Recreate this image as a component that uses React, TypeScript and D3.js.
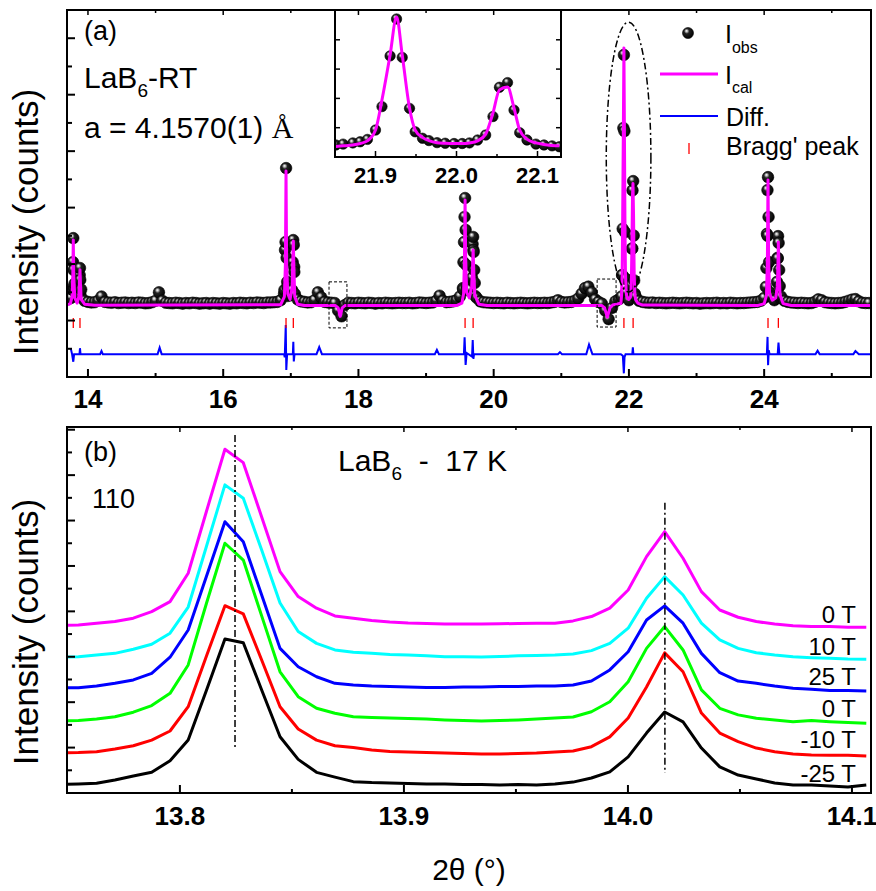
import React, { useEffect, useRef } from "react";
import * as d3 from "d3";

const W = 876,
  H = 891;
const FONT = "Liberation Sans, Arial, sans-serif";

// ---------- panel (a): LaB6 room temperature refinement ----------
// observed background, sampled every 0.05 deg starting at 13.70
const obsStart = 13.7;
const obsStep = 0.05;
const obsBackground = [
  2.75, 2.8, 3.3, 2.85, 3.1, 2.7, 2.66, 2.64, 2.65, 2.7, 2.85, 2.66, 2.64, 2.63, 2.65, 2.62, 2.63, 2.64, 2.62, 2.63,
  2.62, 2.64, 2.63, 2.61, 2.62, 2.65, 2.7, 3.0, 2.7, 2.63, 2.62, 2.61, 2.63, 2.62, 2.6, 2.62, 2.61, 2.63, 2.62, 2.6,
  2.61, 2.62, 2.6, 2.62, 2.61, 2.6, 2.62, 2.61, 2.6, 2.62, 2.61, 2.63, 2.62, 2.61, 2.63, 2.62, 2.64, 2.63, 2.62, 2.64,
  2.64, 2.65, 2.66, 2.72, 2.95, 3.2, 2.9, 3.9, 2.75, 2.68, 2.66, 2.64, 2.65, 2.72, 3.0, 2.82, 2.66, 2.64, 2.63, 2.62,
  2.35, 2.15, 2.55, 2.63, 2.62, 2.61, 2.63, 2.62, 2.61, 2.63, 2.62, 2.6, 2.62, 2.61, 2.63, 2.62, 2.61, 2.62, 2.63, 2.62,
  2.62, 2.63, 2.61, 2.62, 2.64, 2.63, 2.62, 2.63, 2.64, 2.7, 2.88, 2.7, 2.65, 2.66, 2.68, 2.72, 2.85, 3.1, 3.2, 3.1,
  4.5, 2.8, 2.68, 2.65, 2.64, 2.63, 2.62, 2.63, 2.62, 2.61, 2.63, 2.62, 2.61, 2.62, 2.63, 2.62, 2.61, 2.62, 2.63, 2.62,
  2.62, 2.63, 2.62, 2.64, 2.66, 2.72, 2.66, 2.64, 2.65, 2.66, 2.7, 2.78, 2.95, 3.15, 3.2, 3.0, 2.75, 2.66, 2.6, 2.35,
  2.05, 2.45, 2.68, 2.75, 3.61, 3.48, 2.72, 4.55, 2.85, 2.7, 2.66, 2.64, 2.63, 2.64, 2.62, 2.63, 2.62, 2.61, 2.62, 2.63,
  2.62, 2.61, 2.62, 2.63, 2.62, 2.61, 2.62, 2.6, 2.61, 2.62, 2.61, 2.62, 2.63, 2.61, 2.62, 2.61, 2.63, 2.62, 2.61, 2.62,
  2.62, 2.63, 2.64, 2.65, 2.66, 2.7, 2.8, 5.0, 2.85, 2.72, 4.2, 2.85, 2.7, 2.66, 2.64, 2.63, 2.62, 2.63, 2.62, 2.61,
  2.62, 2.66, 2.75, 2.72, 2.65, 2.63, 2.62, 2.61, 2.62, 2.63, 2.66, 2.7, 2.74, 2.76, 2.68, 2.63, 2.62, 2.62,
];

// observed points on the Bragg reflections
const peakTheta = [
  13.775, 13.779, 13.783, 13.787, 13.791, 13.874, 13.878, 13.882, 13.886, 13.89,
  16.905, 16.914, 16.922, 16.93, 16.938, 16.946, 16.955, 17.02, 17.028, 17.036, 17.044, 17.052, 17.06,
  19.545, 19.553, 19.561, 19.569, 19.577, 19.585, 19.593, 19.601, 19.68, 19.688, 19.696, 19.704, 19.712, 19.72, 19.728,
  21.89, 21.9, 21.908, 21.918, 21.926, 21.933, 21.942, 21.949, 21.958, 22.036, 22.045, 22.053, 22.063, 22.071, 22.078, 22.087,
  24.025, 24.033, 24.041, 24.049, 24.057, 24.065, 24.073, 24.081, 24.19, 24.198, 24.206, 24.214, 24.222, 24.23, 24.238,
];
const peakObs = [
  3.08, 4.07, 4.92, 3.79, 3.19, 3.01, 3.61, 3.86, 3.44, 2.9,
  3.08, 4.5, 4.78, 7.4, 4.22, 3.37, 2.87, 3.08, 4.07, 4.85, 4.68, 3.72, 2.94,
  3.15, 4.07, 4.78, 5.67, 6.34, 5.21, 3.97, 3.08, 3.51, 4.71, 4.96, 4.43, 3.79, 3.33, 2.87,
  2.85, 3.61, 5.25, 8.82, 11.41, 8.71, 5.13, 3.48, 3.0, 3.26, 4.55, 6.61, 6.94, 5.01, 3.42, 2.95,
  3.19, 3.86, 5.07, 6.62, 7.08, 5.67, 4.07, 3.01, 3.37, 4.22, 4.99, 4.75, 3.79, 3.22, 2.8,
];

// calculated profile
const calcTheta = [
  13.69, 13.74, 13.765, 13.776, 13.783, 13.79, 13.805, 13.84, 13.865, 13.875, 13.882, 13.889, 13.9, 13.95, 14.1,
  16.85, 16.905, 16.92, 16.929, 16.938, 16.955, 16.99, 17.02, 17.03, 17.037, 17.044, 17.058, 17.1, 17.2,
  17.66, 17.7, 17.73, 17.76, 17.8,
  19.45, 19.53, 19.555, 19.568, 19.577, 19.586, 19.6, 19.64, 19.675, 19.688, 19.696, 19.705, 19.72, 19.78, 19.9,
  21.6, 21.64, 21.68, 21.72, 21.76, 21.85,
  21.881, 21.89, 21.9, 21.908, 21.918, 21.926, 21.933, 21.942, 21.949, 21.958, 21.966, 21.976, 21.997, 22.016, 22.026,
  22.036, 22.045, 22.053, 22.06, 22.068, 22.078, 22.087, 22.098, 22.13, 22.2,
  23.9, 24.0, 24.035, 24.048, 24.057, 24.066, 24.08, 24.12, 24.17, 24.195, 24.204, 24.21, 24.218, 24.235, 24.28, 24.4,
  25.58,
];
const calcVal = [
  2.56, 2.6, 2.85, 3.6, 4.85, 3.6, 2.8, 2.62, 2.85, 3.4, 3.8, 3.3, 2.75, 2.58, 2.54,
  2.56, 2.85, 4.0, 7.3, 4.0, 2.95, 2.75, 3.2, 4.2, 4.82, 4.0, 2.85, 2.58, 2.53,
  2.53, 2.45, 2.15, 2.45, 2.53,
  2.53, 2.62, 2.95, 4.2, 6.27, 4.2, 3.0, 2.8, 3.2, 3.9, 4.5, 3.8, 2.9, 2.58, 2.53,
  2.53, 2.45, 2.12, 2.45, 2.55, 2.6,
  2.6, 2.85, 3.61, 5.73, 8.88, 11.65, 8.88, 5.15, 3.61, 3.09, 2.87, 2.8, 2.75, 2.8, 2.85,
  3.32, 4.8, 6.43, 6.85, 5.8, 3.61, 2.97, 2.75, 2.62, 2.55,
  2.53, 2.6, 2.9, 4.2, 6.98, 4.2, 2.95, 2.72, 2.8, 3.2, 4.0, 4.78, 3.9, 2.9, 2.6, 2.53,
  2.53,
];

// difference curve
const diffTheta = [
  13.745, 13.765, 13.783, 13.795, 13.875, 13.882, 13.89, 14.18, 14.2, 14.22, 15.03, 15.06, 15.09,
  16.9, 16.91, 16.925, 16.933, 16.945, 17.03, 17.037, 17.044, 17.055, 17.38, 17.42, 17.46,
  19.13, 19.16, 19.19, 19.56, 19.57, 19.585, 19.6, 19.68, 19.69, 19.7, 19.71,
  20.95, 20.98, 21.01, 21.37, 21.41, 21.46, 21.88, 21.91, 21.925, 21.935, 21.95, 22.05, 22.058, 22.066,
  24.04, 24.05, 24.058, 24.068, 24.08, 24.2, 24.212, 24.225, 24.76, 24.79, 24.82, 25.32, 25.35, 25.4, 25.58,
];
const diffVal = [
  1.02, 0.81, 0.54, 0.81, 0.81, 1.02, 0.81, 0.81, 0.92, 0.81, 0.81, 1.04, 0.81,
  0.81, 0.7, 1.84, 0.25, 0.81, 0.81, 1.25, 0.55, 0.81, 0.81, 1.06, 0.81,
  0.81, 0.96, 0.81, 0.81, 1.41, 0.43, 0.85, 0.72, 1.31, 0.64, 0.81,
  0.81, 0.88, 0.81, 0.81, 1.15, 0.81, 0.81, 0.75, 0.13, 0.7, 0.81, 0.81, 1.05, 0.81,
  0.81, 1.42, 0.42, 0.95, 0.81, 0.81, 1.22, 0.81, 0.81, 0.93, 0.81, 0.81, 0.92, 0.81, 0.81,
];

const braggPeaks = [13.783, 13.882, 16.929, 17.037, 19.577, 19.696, 21.926, 22.062, 24.057, 24.21];
const braggLow = 1.74,
  braggHigh = 2.09;

// inset: the 21.9 / 22.06 doublet
const insetTheta = [
  21.851, 21.86, 21.872, 21.881, 21.89, 21.9, 21.908, 21.918, 21.926, 21.933, 21.942, 21.949, 21.958, 21.966,
  21.976, 21.986, 21.997, 22.007, 22.016, 22.026, 22.036, 22.045, 22.053, 22.063, 22.071, 22.078, 22.087,
  22.098, 22.108, 22.118, 22.127,
];
const insetObs = [
  0.41, 0.44, 0.48, 0.52, 0.6, 0.92, 1.72, 3.45, 4.71, 3.4, 1.66, 0.86, 0.64, 0.56,
  0.49, 0.47, 0.46, 0.46, 0.48, 0.58, 0.75, 1.38, 2.38, 2.54, 1.6, 0.83, 0.58,
  0.44, 0.41, 0.38, 0.35,
];
const insetCalc = [
  0.36, 0.38, 0.41, 0.46, 0.55, 0.92, 1.95, 3.48, 4.78, 3.48, 1.67, 0.92, 0.67, 0.56,
  0.49, 0.47, 0.46, 0.46, 0.48, 0.55, 0.78, 1.5, 2.29, 2.39, 1.67, 0.92, 0.61,
  0.48, 0.43, 0.39, 0.38,
];

// ---------- panel (b): 110 doublet at 17 K in field ----------
const scanTheta = [
  13.7465, 13.7547, 13.7628, 13.771, 13.7792, 13.7874, 13.7956, 13.8037, 13.8119, 13.8201, 13.8283, 13.8365,
  13.8447, 13.8528, 13.861, 13.8692, 13.8774, 13.8856, 13.8937, 13.9019, 13.9101, 13.9183, 13.9265, 13.9346,
  13.9428, 13.951, 13.9592, 13.9674, 13.9755, 13.9837, 13.9919, 14.0001, 14.0083, 14.0164, 14.0246, 14.0328,
  14.041, 14.0492, 14.0573, 14.0655, 14.0737, 14.0819, 14.0901, 14.0982, 14.1064,
];
const scanM25 = [
  0.37, 0.4, 0.43, 0.57, 0.75, 0.91, 1.42, 2.33, 4.54, 6.78, 6.62, 4.54,
  2.48, 1.48, 0.91, 0.7, 0.5, 0.46, 0.44, 0.42, 0.4, 0.4, 0.37, 0.37,
  0.35, 0.37, 0.35, 0.4, 0.48, 0.66, 0.93, 1.59, 2.64, 3.57, 3.13, 1.98,
  1.15, 0.79, 0.62, 0.44, 0.35, 0.35, 0.31, 0.26, 0.35,
];
const scanM10 = [
  1.76, 1.78, 1.82, 1.94, 2.08, 2.33, 2.73, 3.8, 6.04, 8.25, 7.89, 5.86,
  3.8, 2.82, 2.33, 2.08, 2.0, 1.89, 1.83, 1.81, 1.78, 1.76, 1.74, 1.72,
  1.72, 1.74, 1.76, 1.81, 1.85, 2.04, 2.47, 3.3, 4.67, 6.17, 5.34, 3.52,
  2.64, 2.26, 1.98, 1.82, 1.72, 1.67, 1.66, 1.66, 1.63,
];
const scan0Tb = [
  3.17, 3.19, 3.26, 3.36, 3.56, 3.85, 4.39, 5.64, 8.37, 11.0, 10.26, 7.8,
  5.34, 4.24, 3.73, 3.51, 3.36, 3.33, 3.3, 3.28, 3.26, 3.22, 3.19, 3.17,
  3.19, 3.22, 3.26, 3.3, 3.35, 3.58, 4.02, 4.9, 6.37, 7.33, 6.3, 4.54,
  3.73, 3.44, 3.29, 3.22, 3.14, 3.19, 3.14, 3.1, 3.07,
];
const scan25 = [
  4.63, 4.64, 4.71, 4.83, 4.98, 5.27, 5.98, 7.18, 9.56, 11.95, 11.07, 8.72,
  6.37, 5.56, 5.12, 4.83, 4.76, 4.71, 4.69, 4.67, 4.65, 4.65, 4.67, 4.67,
  4.69, 4.69, 4.71, 4.71, 4.76, 4.93, 5.42, 6.22, 7.62, 8.24, 7.48, 6.15,
  5.3, 4.93, 4.83, 4.71, 4.61, 4.57, 4.51, 4.51, 4.49,
];
const scan10 = [
  5.99, 6.0, 6.08, 6.15, 6.33, 6.55, 7.04, 8.19, 10.88, 13.57, 12.98, 10.7,
  8.37, 7.11, 6.59, 6.3, 6.2, 6.15, 6.1, 6.08, 6.04, 6.0, 6.0, 5.99,
  6.01, 6.04, 6.06, 6.08, 6.12, 6.27, 6.59, 7.26, 8.58, 9.53, 8.72, 7.48,
  6.74, 6.37, 6.18, 6.08, 6.0, 5.96, 5.93, 5.9, 5.89,
];
const scan0Ta = [
  7.38, 7.4, 7.48, 7.55, 7.7, 7.99, 8.43, 9.68, 12.42, 15.14, 14.55, 12.16,
  9.75, 8.65, 8.14, 7.8, 7.7, 7.6, 7.53, 7.49, 7.47, 7.44, 7.44, 7.44,
  7.45, 7.47, 7.48, 7.48, 7.58, 7.77, 8.14, 8.94, 10.41, 11.51, 10.34, 8.87,
  8.06, 7.74, 7.55, 7.44, 7.37, 7.33, 7.33, 7.3, 7.3,
];
const scanSeries = [scanM25, scanM10, scan0Tb, scan25, scan10, scan0Ta];
const fieldLabels = ["-25 T", "-10 T", "0 T", "25 T", "10 T", "0 T"];
const fieldColors = ["#000000", "#ff0000", "#00ff00", "#0000ff", "#00ffff", "#ff00ff"];
const peakMarks = [13.8246, 14.0165];

export default function App() {
  const svgRef = useRef<SVGSVGElement>(null);

  useEffect(() => {
    const svg = d3.select(svgRef.current);
    svg.selectAll("*").remove();
    svg.append("rect").attr("width", W).attr("height", H).attr("fill", "#fff");

    const defs = svg.append("defs");
    const grad = defs
      .append("radialGradient")
      .attr("id", "ball")
      .attr("cx", "0.42")
      .attr("cy", "0.4")
      .attr("r", "0.62")
      .attr("fx", "0.36")
      .attr("fy", "0.3");
    [
      [0, "#ffffff"],
      [0.14, "#c0c0c0"],
      [0.38, "#222222"],
      [1, "#000000"],
    ].forEach(([o, c]) => grad.append("stop").attr("offset", o as number).attr("stop-color", c as string));

    // scales
    const xA = d3.scaleLinear().domain([13.69, 25.58]).range([67, 871]);
    const yA = d3.scaleLinear().domain([0, 13]).range([377, 10]);
    const xI = d3.scaleLinear().domain([21.85, 22.129]).range([335, 561]);
    const yI = d3.scaleLinear().domain([0, 5.017]).range([157, 10]);
    const xB = d3.scaleLinear().domain([13.7496, 14.1085]).range([67, 871]);
    const yB = d3.scaleLinear().domain([0, 16.12]).range([793, 427]);

    const clip = (id: string, x0: number, y0: number, x1: number, y1: number) =>
      defs
        .append("clipPath")
        .attr("id", id)
        .append("rect")
        .attr("x", x0)
        .attr("y", y0)
        .attr("width", x1 - x0)
        .attr("height", y1 - y0);
    clip("clipA", 67, 10, 871, 377);
    clip("clipI", 335, 10, 561, 157);
    clip("clipB", 67, 427, 871, 793);

    // ----- panel (a) -----
    const gA = svg.append("g").attr("clip-path", "url(#clipA)");
    const obsPts: [number, number][] = obsBackground.map((v, i) => [obsStart + i * obsStep, v]);
    peakTheta.forEach((t, i) => obsPts.push([t, peakObs[i]]));
    obsPts.sort((a, b) => a[0] - b[0]);

    gA.selectAll("circle.obs")
      .data(obsPts)
      .join("circle")
      .attr("class", "obs")
      .attr("cx", (d) => xA(d[0]))
      .attr("cy", (d) => yA(d[1]))
      .attr("r", 5.8)
      .attr("fill", "url(#ball)")
      .attr("stroke", "#000")
      .attr("stroke-width", 0.6);

    gA.append("path")
      .attr("d", d3.line<number>().x((t) => xA(t)).y((_, i) => yA(calcVal[i]))(calcTheta))
      .attr("fill", "none")
      .attr("stroke", "#ff00ff")
      .attr("stroke-width", 3)
      .attr("stroke-linejoin", "round");

    gA.append("path")
      .attr("d", d3.line<number>().x((t) => xA(t)).y((_, i) => yA(diffVal[i]))(diffTheta))
      .attr("fill", "none")
      .attr("stroke", "#0000ff")
      .attr("stroke-width", 2);

    gA.selectAll("line.bragg")
      .data(braggPeaks)
      .join("line")
      .attr("class", "bragg")
      .attr("x1", (d) => xA(d))
      .attr("x2", (d) => xA(d))
      .attr("y1", yA(braggLow))
      .attr("y2", yA(braggHigh))
      .attr("stroke", "#ff0000")
      .attr("stroke-width", 1.3);

    // dashed boxes around the excluded dips
    const boxes = [
      [17.565, 17.83, 1.74, 3.37],
      [21.53, 21.81, 1.77, 3.47],
    ];
    boxes.forEach(([t0, t1, u0, u1]) =>
      gA.append("rect")
        .attr("x", xA(t0))
        .attr("y", yA(u1))
        .attr("width", xA(t1) - xA(t0))
        .attr("height", yA(u0) - yA(u1))
        .attr("fill", "none")
        .attr("stroke", "#000")
        .attr("stroke-width", 1)
        .attr("stroke-dasharray", "3,2")
    );

    // dash-dot ellipse around the zoomed doublet
    gA.append("ellipse")
      .attr("cx", xA(21.995))
      .attr("cy", yA(7.79))
      .attr("rx", xA(21.995 + 0.33) - xA(21.995))
      .attr("ry", yA(0) - yA(4.78))
      .attr("fill", "none")
      .attr("stroke", "#000")
      .attr("stroke-width", 1.5)
      .attr("stroke-dasharray", "7,3,2,3");

    // ----- inset -----
    svg.append("rect").attr("x", 335).attr("y", 10).attr("width", 226).attr("height", 147).attr("fill", "#fff");
    const gI = svg.append("g").attr("clip-path", "url(#clipI)");
    gI.selectAll("circle")
      .data(insetTheta)
      .join("circle")
      .attr("cx", (d) => xI(d))
      .attr("cy", (_, i) => yI(insetObs[i]))
      .attr("r", 5.2)
      .attr("fill", "url(#ball)")
      .attr("stroke", "#000")
      .attr("stroke-width", 0.6);
    gI.append("path")
      .attr("d", d3.line<number>().x((t) => xI(t)).y((_, i) => yI(insetCalc[i])).curve(d3.curveMonotoneX)(insetTheta))
      .attr("fill", "none")
      .attr("stroke", "#ff00ff")
      .attr("stroke-width", 3);
    svg.append("rect")
      .attr("x", 335)
      .attr("y", 10)
      .attr("width", 226)
      .attr("height", 147)
      .attr("fill", "none")
      .attr("stroke", "#000")
      .attr("stroke-width", 2);
    const gIx = svg.append("g");
    [21.9, 22.0, 22.1].forEach((t) => {
      gIx.append("line").attr("x1", xI(t)).attr("x2", xI(t)).attr("y1", 157).attr("y2", 151).attr("stroke", "#000").attr("stroke-width", 1.5);
      gIx.append("text")
        .attr("x", xI(t))
        .attr("y", 183)
        .attr("text-anchor", "middle")
        .attr("font-family", FONT)
        .attr("font-weight", "bold")
        .attr("font-size", 22)
        .text(t.toFixed(1));
    });
    [21.95, 22.05].forEach((t) =>
      gIx.append("line").attr("x1", xI(t)).attr("x2", xI(t)).attr("y1", 157).attr("y2", 154).attr("stroke", "#000").attr("stroke-width", 1.5)
    );
    [1, 2, 3, 4].forEach((v) => {
      gIx.append("line").attr("x1", 335).attr("x2", 340).attr("y1", yI(v)).attr("y2", yI(v)).attr("stroke", "#000").attr("stroke-width", 1.5);
      gIx.append("line").attr("x1", 561).attr("x2", 556).attr("y1", yI(v)).attr("y2", yI(v)).attr("stroke", "#000").attr("stroke-width", 1.5);
    });

    // ----- frames and ticks -----
    const axes = (
      x: d3.ScaleLinear<number, number>,
      y: d3.ScaleLinear<number, number>,
      xMajor: number[],
      xMinor: number[],
      yTicks: number[],
      labelY: number,
      fmt: (v: number) => string
    ) => {
      const [x0, x1] = x.range();
      const [y0, y1] = y.range();
      const g = svg.append("g").attr("stroke", "#000");
      xMajor.forEach((t) => {
        g.append("line").attr("x1", x(t)).attr("x2", x(t)).attr("y1", y0).attr("y2", y0 - 8).attr("stroke-width", 2);
        g.append("line").attr("x1", x(t)).attr("x2", x(t)).attr("y1", y1).attr("y2", y1 + 5).attr("stroke-width", 1.5);
      });
      xMinor.forEach((t) => {
        g.append("line").attr("x1", x(t)).attr("x2", x(t)).attr("y1", y0).attr("y2", y0 - 4).attr("stroke-width", 2);
        g.append("line").attr("x1", x(t)).attr("x2", x(t)).attr("y1", y1).attr("y2", y1 + 3).attr("stroke-width", 1.5);
      });
      yTicks.forEach((v, i) => {
        const len = i % 2 === 0 ? 5 : 8;
        g.append("line").attr("x1", x0).attr("x2", x0 + len).attr("y1", y(v)).attr("y2", y(v)).attr("stroke-width", 2);
      });
      g.append("rect")
        .attr("x", x0)
        .attr("y", y1)
        .attr("width", x1 - x0)
        .attr("height", y0 - y1)
        .attr("fill", "none")
        .attr("stroke-width", 2);
      svg.append("g")
        .selectAll("text")
        .data(xMajor)
        .join("text")
        .attr("x", (d) => x(d))
        .attr("y", labelY)
        .attr("text-anchor", "middle")
        .attr("font-family", FONT)
        .attr("font-weight", "bold")
        .attr("font-size", 26)
        .text(fmt);
    };

    axes(xA, yA, [14, 16, 18, 20, 22, 24], [15, 17, 19, 21, 23, 25], d3.range(1, 13), 408, (v) => String(v));

    // panel (a) annotations
    const txt = (x: number, y: number, size: number) =>
      svg.append("text").attr("x", x).attr("y", y).attr("font-family", FONT).attr("font-size", size);
    txt(84, 40, 27).text("(a)");
    const la = txt(84, 88, 30);
    la.append("tspan").text("LaB");
    la.append("tspan").attr("font-size", 19).attr("dy", 9).text("6");
    la.append("tspan").attr("dy", -9).text("-RT");
    const lc = txt(84, 138, 30);
    lc.append("tspan").text("a = 4.1570(1) ");
    lc.append("tspan").attr("font-family", "Liberation Serif, serif").text("\u00c5");

    // legend
    svg.append("circle").attr("cx", 688).attr("cy", 33).attr("r", 5.5).attr("fill", "url(#ball)").attr("stroke", "#000").attr("stroke-width", 0.6);
    const l1 = txt(725, 43, 25);
    l1.append("tspan").text("I");
    l1.append("tspan").attr("font-size", 16).attr("dy", 10).text("obs");
    svg.append("line").attr("x1", 660).attr("x2", 718).attr("y1", 74).attr("y2", 74).attr("stroke", "#ff00ff").attr("stroke-width", 3);
    const l2 = txt(725, 84, 25);
    l2.append("tspan").text("I");
    l2.append("tspan").attr("font-size", 16).attr("dy", 9).text("cal");
    svg.append("line").attr("x1", 660).attr("x2", 718).attr("y1", 116).attr("y2", 116).attr("stroke", "#0000ff").attr("stroke-width", 2);
    txt(726, 126, 25).text("Diff.");
    svg.append("line").attr("x1", 689).attr("x2", 689).attr("y1", 143).attr("y2", 154).attr("stroke", "#ff0000").attr("stroke-width", 1.3);
    txt(726, 155, 25).text("Bragg' peak");

    // ----- panel (b) -----
    const gB = svg.append("g").attr("clip-path", "url(#clipB)");
    scanSeries.forEach((s, k) => {
      gB.append("path")
        .attr("d", d3.line<number>().x((t) => xB(t)).y((_, i) => yB(s[i]))(scanTheta))
        .attr("fill", "none")
        .attr("stroke", fieldColors[k])
        .attr("stroke-width", 3)
        .attr("stroke-linejoin", "round");
    });
    const markSpan = [
      [15.77, 2.03],
      [12.78, 0.88],
    ];
    peakMarks.forEach((t, i) =>
      gB.append("line")
        .attr("x1", xB(t))
        .attr("x2", xB(t))
        .attr("y1", yB(markSpan[i][0]))
        .attr("y2", yB(markSpan[i][1]))
        .attr("stroke", "#000")
        .attr("stroke-width", 1.5)
        .attr("stroke-dasharray", "7,3,2,3")
    );

    axes(xB, yB, [13.8, 13.9, 14.0, 14.1], [13.85, 13.95, 14.05], d3.range(1, 17), 825, (v) => v.toFixed(1));

    const labelBase = [782, 748, 717, 685, 655, 623];
    fieldLabels.forEach((f, k) =>
      svg.append("text")
        .attr("x", 856)
        .attr("y", labelBase[k])
        .attr("text-anchor", "end")
        .attr("font-family", FONT)
        .attr("font-size", 24)
        .text(f)
    );

    txt(84, 461, 27).text("(b)");
    txt(92, 508, 27).text("110");
    const lb = txt(338, 471, 30).attr("xml:space", "preserve").style("white-space", "pre");
    lb.append("tspan").text("LaB");
    lb.append("tspan").attr("font-size", 19).attr("dy", 9).text("6");
    lb.append("tspan").attr("dy", -9).text("  -  17 K");

    // axis titles
    [222, 632].forEach((cy) =>
      svg.append("text")
        .attr("transform", `translate(38,${cy}) rotate(-90)`)
        .attr("text-anchor", "middle")
        .attr("font-family", FONT)
        .attr("font-size", 35)
        .text("Intensity (counts)")
    );
    svg.append("text")
      .attr("x", 469)
      .attr("y", 880)
      .attr("text-anchor", "middle")
      .attr("font-family", FONT)
      .attr("font-size", 30)
      .text("2\u03b8 (\u00b0)");
  }, []);

  return <svg ref={svgRef} width={W} height={H} style={{ position: "absolute", left: 0, top: 0 }} />;
}
